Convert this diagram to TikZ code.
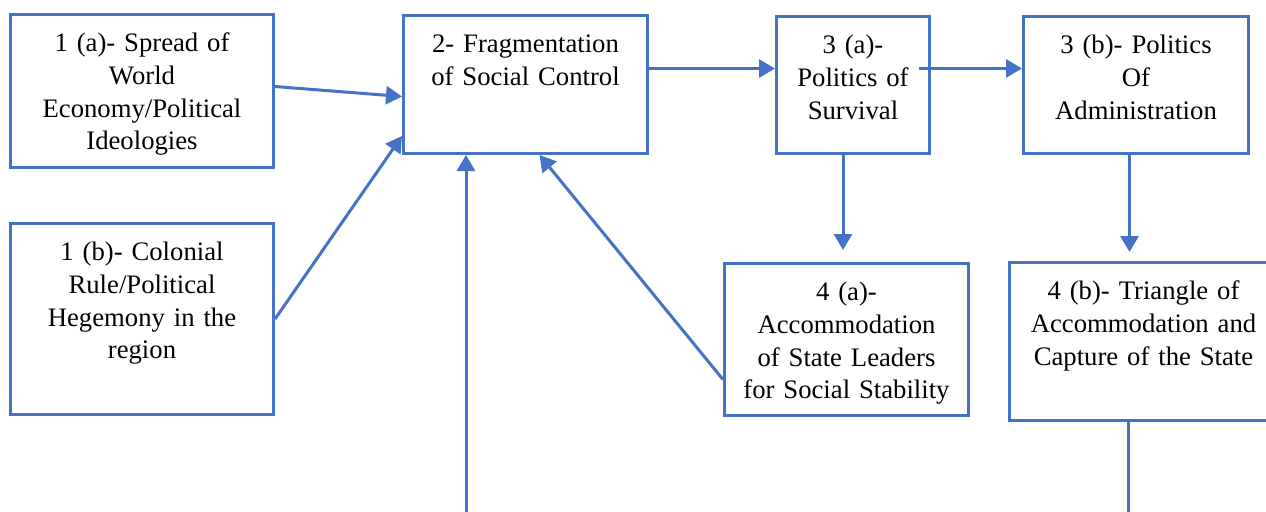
\documentclass[tikz,border=0pt]{standalone}
\usepackage{fontspec}
\setmainfont{Liberation Serif}
\usepackage{tikz}
\usepackage{xcolor}
\usetikzlibrary{arrows.meta,positioning,calc}
\definecolor{boxblue}{HTML}{4472C4}
\definecolor{ink}{HTML}{000000}
\tikzset{
  stagebox/.style={draw=boxblue,line width=1.5pt,anchor=north west,
                   inner sep=0pt,align=center,text=ink,
                   font=\fontsize{13.35}{16.4}\selectfont,
                   text height=18.5pt},
  flowarr/.style={-{Triangle[length=8pt,width=9pt]},line width=1.5pt,color=boxblue},
  flowline/.style={line width=1.5pt,color=boxblue}
}

\begin{document}
\begin{tikzpicture}[x=0.5pt,y=-0.5pt]
  \clip (0,0) rectangle (1266,511);
  % first column
  \node[stagebox,text width=131.5pt,text depth=58pt] (spread) at (9,13)
    {1 (a)- Spread of\\World\\Economy/Political\\Ideologies};
  \node[stagebox,text width=131.5pt,text depth=77pt] (colonial) at (9,222)
    {1 (b)- Colonial\\Rule/Political\\Hegemony in the\\region};
  % middle
  \node[stagebox,text width=122pt,text depth=50.5pt] (frag) at (402,14)
    {2- Fragmentation\\of Social Control};
  \node[stagebox,text width=76.5pt,text depth=50pt] (survival) at (775,15)
    {3 (a)-\\Politics of\\Survival};
  \node[stagebox,text width=112.5pt,text depth=50pt] (admin) at (1022,15)
    {3 (b)- Politics\\Of\\Administration};
  \node[stagebox,text width=122pt,text depth=57.5pt] (accom) at (723,262)
    {4 (a)-\\Accommodation\\of State Leaders\\for Social Stability};
  \node[stagebox,text width=134pt,text depth=60.5pt] (capture) at (1008,261)
    {4 (b)- Triangle of\\Accommodation and\\Capture of the State};
  \coordinate (lowin) at (466,530);
  \coordinate (capdown) at (1128,530);

  \draw[flowarr] ([yshift=2.25pt]spread.east) -- ([yshift=-6pt]frag.west);
  \draw[flowarr] (colonial.east) -- ([yshift=9.5pt]frag.south west);
  \draw[flowarr] ([yshift=8pt]frag.east) -- ([yshift=8.25pt]survival.west);
  \draw[flowarr] ([xshift=-6pt,yshift=8.25pt]survival.east) -- ([yshift=8.25pt]admin.west);
  \draw[flowarr] ([xshift=-5pt]survival.south) -- ($(survival.south |- accom.north)+(-10,-12)$);
  \draw[flowarr] ([xshift=-3.25pt]admin.south) -- ($(admin.south |- capture.north)+(-6.5,-9)$);
  \draw[flowarr] ([yshift=-20pt]accom.west) -- ([xshift=7pt]frag.south);
  \draw[flowarr] (lowin) -- (lowin |- frag.south);
  \draw[flowline] (capdown |- capture.south) -- (capdown);
\end{tikzpicture}
\end{document}
